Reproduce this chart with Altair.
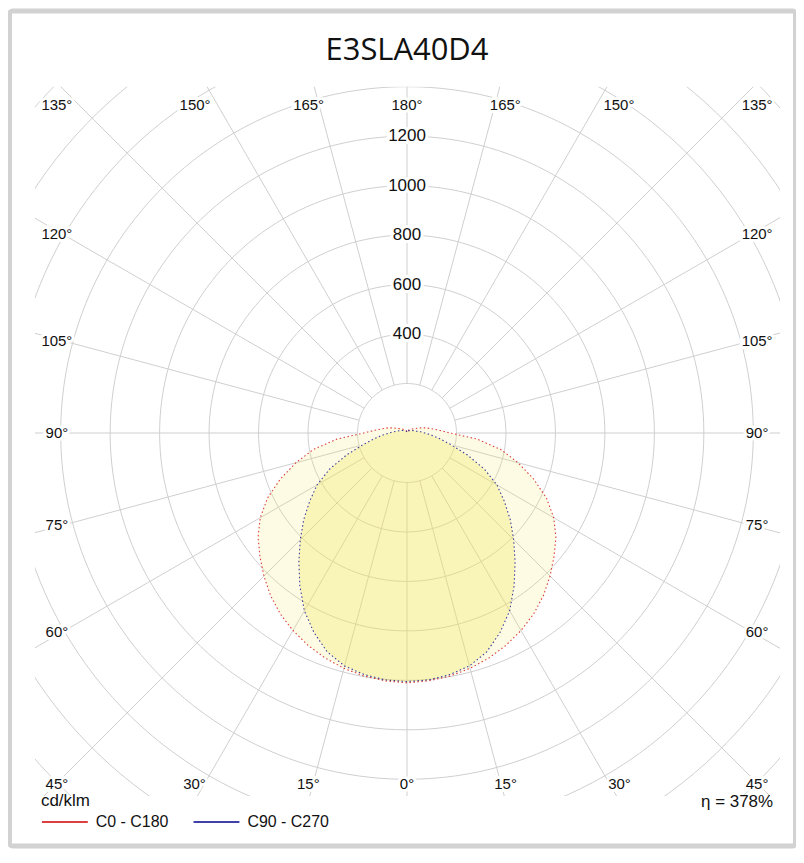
import math
import altair as alt
import pandas as pd

# ---------------- data ----------------
gamma = [0, 5, 10, 15, 20, 25, 30, 35, 40, 45, 50, 55, 60, 65, 70, 75, 80, 85,
         90, 95, 100, 105, 110, 115, 120, 130, 140, 150, 160, 170, 180]
c0_c180 = [1010, 1006, 998, 985, 968, 947, 922, 893, 858, 818, 776, 735, 685, 622,
           545, 465, 385, 285, 175, 130, 100, 80, 60, 45, 35, 25, 18, 14, 10, 8, 6]
c90_c270 = [1005, 1002, 992, 975, 942, 890, 830, 755, 680, 610, 545, 480, 420, 345,
            260, 185, 135, 100, 72, 55, 40, 34, 28, 24, 20, 15, 12, 10, 8, 6, 5]
series_names = ["C0 - C180", "C90 - C270"]
series_colors = ["#d00000", "#00008c"]
ring_values = [200, 400, 600, 800, 1000, 1200, 1400, 1600, 1800, 2000, 2200, 2400]
ring_labels = [400, 600, 800, 1000, 1200]
angle_ticks = [0, 15, 30, 45, 60, 75, 90, 105, 120, 135, 150, 165, 180]
title_text = "E3SLA40D4"
unit_text = "cd/klm"
eta_text = "η = 378%"

# ---------------- layout ----------------
K = 0.248                      # px per cd/klm
CXP, CYP = 408, 433            # centre (page px)
X0, Y0, W, H = 35, 86, 747, 711  # plot area (page px)
cx, cy = CXP - X0, CYP - Y0
xdom = [-cx / K, (W - cx) / K]
ydom = [-(H - cy) / K, cy / K]
FONT = "Liberation Sans"

xs = alt.Scale(domain=xdom, nice=False, zero=False)
ys = alt.Scale(domain=ydom, nice=False, zero=False)


def X(f="x"):
    return alt.X(f"{f}:Q", scale=xs, axis=None)


def Y(f="y"):
    return alt.Y(f"{f}:Q", scale=ys, axis=None)


# curves
rows = []
for name, vals in zip(series_names, [c0_c180, c90_c270]):
    seq = [(-1, g, v) for g, v in zip(reversed(gamma), reversed(vals))] + \
          [(1, g, v) for g, v in zip(gamma, vals)]
    seq.append(seq[0])
    for i, (s, g, v) in enumerate(seq):
        a = math.radians(g)
        rows.append(dict(series=name, order=i, x=s * v * math.sin(a), y=-v * math.cos(a)))
curves = pd.DataFrame(rows)

# grid rings
grows = []
for r in ring_values:
    for i, d in enumerate(range(0, 361, 2)):
        a = math.radians(d)
        grows.append(dict(ring=r, order=i, x=r * math.cos(a), y=r * math.sin(a)))
rings = pd.DataFrame(grows)

# radial spokes
srows = []
for d in range(0, 360, 15):
    a = math.radians(d)
    srows.append(dict(x=200 * math.cos(a), y=200 * math.sin(a),
                      x2=2600 * math.cos(a), y2=2600 * math.sin(a)))
spokes = pd.DataFrame(srows)

# angle labels: ray to an outer frame, then snapped into the label band
oL, oR, oT, oB = (63 - CXP) / K, (753 - CXP) / K, (CYP - 65) / K, -(802 - CYP) / K
iL, iR, iT, iB = (57 - CXP) / K, (759 - CXP) / K, (CYP - 104) / K, -(785 - CYP) / K
lrows = []
for g in angle_ticks:
    sides = [1] if g in (0, 180) else [-1, 1]
    for s in sides:
        a = math.radians(g)
        dx, dy = s * math.sin(a), -math.cos(a)
        hits = []
        if dx > 1e-9:
            hits.append((oR / dx, "v"))
        if dx < -1e-9:
            hits.append((oL / dx, "v"))
        if dy > 1e-9:
            hits.append((oT / dy, "h"))
        if dy < -1e-9:
            hits.append((oB / dy, "h"))
        t, edge = min(hits)
        px, py = dx * t, dy * t
        corner = abs(abs(dx) - abs(dy)) < 1e-6
        if edge == "v" or corner:
            px = iL if dx < 0 else iR
        if edge == "h" or corner:
            py = iT if dy > 0 else iB
        px = min(max(px, iL), iR)
        py = min(max(py, iB), iT)
        lrows.append(dict(x=px, y=py, label=f"{g}°"))
alabels = pd.DataFrame(lrows)
rlabels = pd.DataFrame(dict(x=[0] * len(ring_labels), y=ring_labels,
                            label=[str(v) for v in ring_labels]))

# ---------------- layers ----------------
grid_color = "#cfcfcf"
ring_layer = alt.Chart(rings).mark_line(color=grid_color, strokeWidth=1, clip=True).encode(
    x=X(), y=Y(), detail="ring:N", order="order:Q")
spoke_layer = alt.Chart(spokes).mark_rule(color=grid_color, strokeWidth=1, clip=True).encode(
    x=X(), y=Y(), x2="x2:Q", y2="y2:Q")

fill_a = alt.Chart(curves[curves.series == series_names[0]]).mark_line(
    fill="#f3e654", fillOpacity=0.16, strokeOpacity=0, clip=True).encode(
    x=X(), y=Y(), order="order:Q")
fill_b = alt.Chart(curves[curves.series == series_names[1]]).mark_line(
    fill="#f3e654", fillOpacity=0.30, strokeOpacity=0, clip=True).encode(
    x=X(), y=Y(), order="order:Q")

lines = alt.Chart(curves).mark_line(strokeWidth=1.1, strokeDash=[1.5, 2.5], opacity=0.75,
                                    clip=True).encode(
    x=X(), y=Y(), order="order:Q",
    color=alt.Color("series:N",
                    scale=alt.Scale(domain=series_names, range=series_colors),
                    legend=alt.Legend(title=unit_text, orient="none", legendX=6, legendY=708,
                                      direction="horizontal", symbolType="stroke",
                                      symbolSize=2116, symbolStrokeWidth=1.3,
                                      symbolDash=[1, 0], symbolOpacity=1,
                                      columnPadding=22, labelOffset=7,
                                      titleFontSize=17, titleFontWeight="normal", titleFont=FONT,
                                      labelFont=FONT, labelFontSize=16, titlePadding=-12,
                                      titleColor="#111", labelColor="#111")))


def text_layers(df, size):
    halo = alt.Chart(df).mark_text(font=FONT, fontSize=size, stroke="white", strokeWidth=6,
                                   fill="white", align="center", baseline="middle").encode(
        x=X(), y=Y(), text="label:N")
    txt = alt.Chart(df).mark_text(font=FONT, fontSize=size, color="#111",
                                  align="center", baseline="middle").encode(
        x=X(), y=Y(), text="label:N")
    return [halo, txt]


title = alt.Chart(pd.DataFrame({"label": [title_text]})).mark_text(
    font="Open Sans", fontSize=31, color="#111", align="center", baseline="middle").encode(
    x=alt.value(CXP - X0), y=alt.value(50 - Y0), text="label:N")

eta = alt.Chart(pd.DataFrame({"label": [eta_text]})).mark_text(
    font=FONT, fontSize=17, color="#111", align="right", baseline="middle").encode(
    x=alt.value(775 - X0), y=alt.value(803 - Y0), text="label:N")

border = alt.Chart(pd.DataFrame({"a": [0]})).mark_rect(
    fill="transparent", stroke="#d2d2d2", strokeWidth=5, cornerRadius=3).encode(
    x=alt.value(9.5 - X0), x2=alt.value(797.5 - X0),
    y=alt.value(10 - Y0), y2=alt.value(847 - Y0))

chart = alt.layer(
    ring_layer, spoke_layer, fill_a, fill_b, lines,
    *text_layers(alabels, 15), *text_layers(rlabels, 17),
    title, eta, border
).properties(
    width=W, height=H,
    autosize=alt.AutoSizeParams(type="none"),
    padding={"left": X0 - 8, "top": Y0 - 8, "right": 790 - (X0 - 8) - W,
             "bottom": 842 - (Y0 - 8) - H},
).configure_view(stroke=None)

chart.save("out.html", embed_options={"renderer": "svg", "actions": False})
